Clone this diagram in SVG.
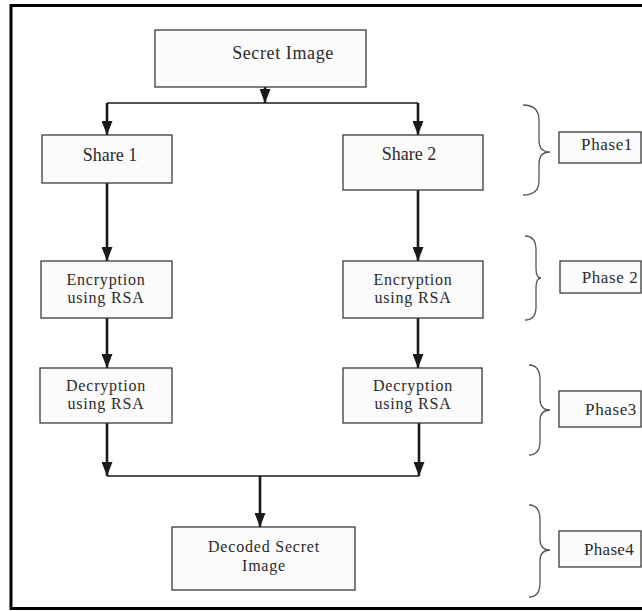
<svg xmlns="http://www.w3.org/2000/svg" width="642" height="611" viewBox="0 0 642 611">
<defs>
<marker id="ah" viewBox="0 0 14 11" refX="14" refY="5.5" markerWidth="14" markerHeight="11" markerUnits="userSpaceOnUse" orient="auto">
<path d="M0,0 L14,5.5 L0,11 Z" fill="#1a1a1a"/>
</marker>
<style>
.box{fill:#fbfbfb;stroke:#3a3a3a;stroke-width:1.3}
.t{font-family:"Liberation Serif","Times New Roman",serif;font-size:18px;fill:#2a2a2a;text-anchor:middle}
.m{font-family:"Liberation Serif","Times New Roman",serif;font-size:16px;letter-spacing:0.8px;fill:#2a2a2a;text-anchor:middle}
.p{font-family:"Liberation Serif","Times New Roman",serif;font-size:17px;fill:#2a2a2a;text-anchor:middle}
.c{stroke:#1a1a1a;stroke-width:2.6;fill:none}
.h{stroke:#1a1a1a;stroke-width:1.6;fill:none}
.br{stroke:#555;stroke-width:1.3;fill:none}
</style>
</defs>
<rect x="0" y="0" width="642" height="611" fill="#ffffff"/>
<rect x="11" y="5.5" width="640" height="603" fill="none" stroke="#000" stroke-width="3"/>

<g id="connectors">
<line class="c" x1="265" y1="87" x2="265" y2="103" marker-end="url(#ah)"/>
<line class="h" x1="107" y1="103" x2="418" y2="103"/>
<line class="c" x1="107" y1="103" x2="107" y2="135" marker-end="url(#ah)"/>
<line class="c" x1="418" y1="103" x2="418" y2="135" marker-end="url(#ah)"/>
<line class="c" x1="107" y1="183" x2="107" y2="261" marker-end="url(#ah)"/>
<line class="c" x1="418" y1="190" x2="418" y2="261" marker-end="url(#ah)"/>
<line class="c" x1="107" y1="318" x2="107" y2="368" marker-end="url(#ah)"/>
<line class="c" x1="418" y1="318" x2="418" y2="368" marker-end="url(#ah)"/>
<line class="c" x1="107" y1="423" x2="107" y2="476" marker-end="url(#ah)"/>
<line class="c" x1="419" y1="423" x2="419" y2="476" marker-end="url(#ah)"/>
<line class="h" x1="107" y1="476" x2="419" y2="476"/>
<line class="c" x1="260" y1="476" x2="260" y2="527" marker-end="url(#ah)"/>
</g>

<g id="secret-image">
<rect class="box" x="155" y="30" width="211" height="57"/>
<text class="t" x="283" y="59" letter-spacing="0.6">Secret Image</text>
</g>
<g id="share1">
<rect class="box" x="42" y="135" width="130" height="48"/>
<text class="t" x="110" y="161">Share 1</text>
</g>
<g id="share2">
<rect class="box" x="343" y="135" width="140" height="55"/>
<text class="t" x="409" y="160">Share 2</text>
</g>
<g id="enc1">
<rect class="box" x="41" y="261" width="131" height="57"/>
<text class="m" x="106" y="285">Encryption</text>
<text class="m" x="106" y="303">using RSA</text>
</g>
<g id="enc2">
<rect class="box" x="343" y="261" width="140" height="57"/>
<text class="m" x="413" y="285">Encryption</text>
<text class="m" x="413" y="303">using RSA</text>
</g>
<g id="dec1">
<rect class="box" x="40" y="368" width="132" height="55"/>
<text class="m" x="106" y="391">Decryption</text>
<text class="m" x="106" y="409">using RSA</text>
</g>
<g id="dec2">
<rect class="box" x="343" y="368" width="139" height="55"/>
<text class="m" x="413" y="391">Decryption</text>
<text class="m" x="413" y="409">using RSA</text>
</g>
<g id="decoded">
<rect class="box" x="172" y="527" width="183" height="63"/>
<text class="m" x="264" y="552">Decoded Secret</text>
<text class="m" x="264" y="571">Image</text>
</g>

<g id="phase1">
<path class="br" d="M523,105 Q539,105 539,120 L539,140 Q539,152 550,152 Q539,152 539,164 L539,181 Q539,195 523,195"/>
<rect class="box" x="559" y="132" width="82" height="31"/>
<text class="p" x="607" y="150" letter-spacing="0.6">Phase1</text>
</g>
<g id="phase2">
<path class="br" d="M525,236 Q536,236 536,250 L536,268 Q536,278 541,278 Q536,278 536,288 L536,307 Q536,320 525,320"/>
<rect class="box" x="560" y="261" width="81" height="32"/>
<text class="p" x="610" y="283" letter-spacing="0.6">Phase 2</text>
</g>
<g id="phase3">
<path class="br" d="M529,365 Q540,365 540,380 L540,399 Q540,410 550,410 Q540,410 540,421 L540,441 Q540,455 529,455"/>
<rect class="box" x="559" y="391" width="82" height="36"/>
<text class="p" x="611" y="415" letter-spacing="0.6">Phase3</text>
</g>
<g id="phase4">
<path class="br" d="M529,505 Q540,505 540,520 L540,539 Q540,550 550,550 Q540,550 540,561 L540,583 Q540,597 529,597"/>
<rect class="box" x="559" y="531" width="82" height="36"/>
<text class="p" x="609" y="555" letter-spacing="0.3">Phase4</text>
</g>
</svg>
